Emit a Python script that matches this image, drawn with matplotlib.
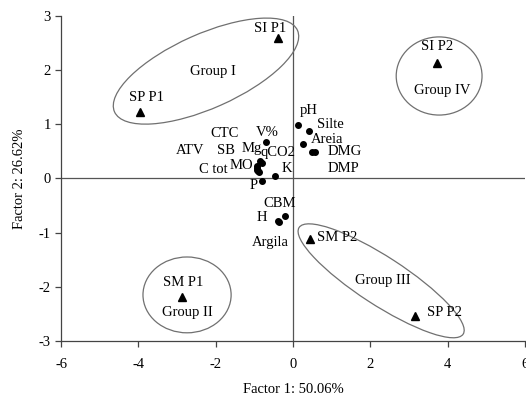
import matplotlib
matplotlib.use("Agg")
from matplotlib import pyplot as plt
from matplotlib.patches import Ellipse
from matplotlib.transforms import Affine2D

plt.rcParams['font.family'] = ['Liberation Serif', 'DejaVu Serif']
plt.rcParams['axes.unicode_minus'] = False

# sites (PCA scores)
site_names = ["SI P1", "SI P2", "SP P1", "SM P1", "SP P2", "SM P2"]
site_x = [-0.39, 3.73, -3.96, -2.88, 3.15, 0.44]
site_y = [2.59, 2.13, 1.23, -2.19, -2.54, -1.12]

# variables (loadings)
var_x = [0.14, 0.41, 0.25, 0.50, 0.57, -0.70, -0.86, -0.80, -0.92, -0.90,
         -0.92, -0.93, -0.89, -0.47, -0.79, -0.20, -0.40, -0.36]
var_y = [0.99, 0.88, 0.64, 0.48, 0.48, 0.67, 0.33, 0.29, 0.19, 0.13,
         0.16, 0.22, 0.11, 0.05, -0.04, -0.69, -0.79, -0.81]

var_names = ["pH", "Silte", "Areia", "DMG", "DMP", "CTC", "V%", "ATV", "SB",
             "Mg", "qCO2", "MO", "C tot", "K", "P", "CBM", "H", "Argila"]
var_lx = [0.40, 0.96, 0.87, 1.34, 1.30, -1.76, -0.66, -2.66, -1.74,
          -1.07, -0.40, -1.33, -2.06, -0.16, -1.01, -0.35, -0.81, -0.59]
var_ly = [1.26, 0.99, 0.71, 0.49, 0.19, 0.83, 0.85, 0.51, 0.51,
          0.56, 0.47, 0.23, 0.16, 0.18, -0.13, -0.46, -0.72, -1.19]

site_lx = [-0.59, 3.72, -3.78, -2.84, 3.47, 0.61]
site_ly = [2.76, 2.43, 1.50, -1.93, -2.48, -1.09]
site_ha = ["center", "center", "center", "center", "left", "left"]

groups = ["Group I", "Group IV", "Group II", "Group III"]
group_lx = [-2.07, 3.85, -2.72, 2.33]
group_ly = [1.97, 1.62, -2.48, -1.89]
# ellipse: centre (data), semi axes (x units), angle (deg, on screen)
ell_cx = [-2.25, 3.78, -2.74, 2.28]
ell_cy = [1.98, 1.89, -2.15, -1.89]
ell_a = [2.59, 1.11, 1.14, 2.53]
ell_b = [0.96, 1.01, 0.98, 0.62]
ell_ang = [24, 0, 0, -33]

fig = plt.figure(figsize=(5.26, 3.96), dpi=100)
ax = fig.add_axes([0.116, 0.139, 0.882, 0.821])

ax.axhline(0, color="#555555", lw=0.9, zorder=1)
ax.axvline(0, color="#555555", lw=0.9, zorder=1)

ax.plot(var_x, var_y, "o", color="black", ms=4, zorder=3)
ax.plot(site_x, site_y, "^", color="black", ms=6, zorder=3)

for name, x, y in zip(var_names, var_lx, var_ly):
    ax.text(x, y, name, ha="center", va="center", fontsize=10.5)
for name, x, y, ha in zip(site_names, site_lx, site_ly, site_ha):
    ax.text(x, y, name, ha=ha, va="center", fontsize=10.5)
for name, x, y in zip(groups, group_lx, group_ly):
    ax.text(x, y, name, ha="center", va="center", fontsize=10.5)

k = 54.17 / 38.67
tr = Affine2D().scale(1, 1 / k) + ax.transData
for cx, cy, a, b, ang in zip(ell_cx, ell_cy, ell_a, ell_b, ell_ang):
    e = Ellipse((cx, cy * k), 2 * a, 2 * b, angle=ang, fill=False,
                edgecolor="#707070", lw=0.9, transform=tr)
    ax.add_patch(e)

ax.set_xlim(-6, 6)
ax.set_ylim(-3, 3)
ax.set_xticks([-6, -4, -2, 0, 2, 4, 6])
ax.set_yticks([-3, -2, -1, 0, 1, 2, 3])
for s in ["top", "right"]:
    ax.spines[s].set_visible(False)
for s in ["left", "bottom"]:
    ax.spines[s].set_color("#444444")
    ax.spines[s].set_linewidth(0.9)
ax.tick_params(direction="out", length=4, width=0.9, color="#444444",
               labelsize=10.5)
ax.tick_params(axis="x", pad=8)
ax.set_xlabel("Factor 1: 50.06%", fontsize=10.5, labelpad=9)
ax.set_ylabel("Factor 2: 26.62%", fontsize=10.5, labelpad=9)

fig.savefig("out.png", dpi=100)
